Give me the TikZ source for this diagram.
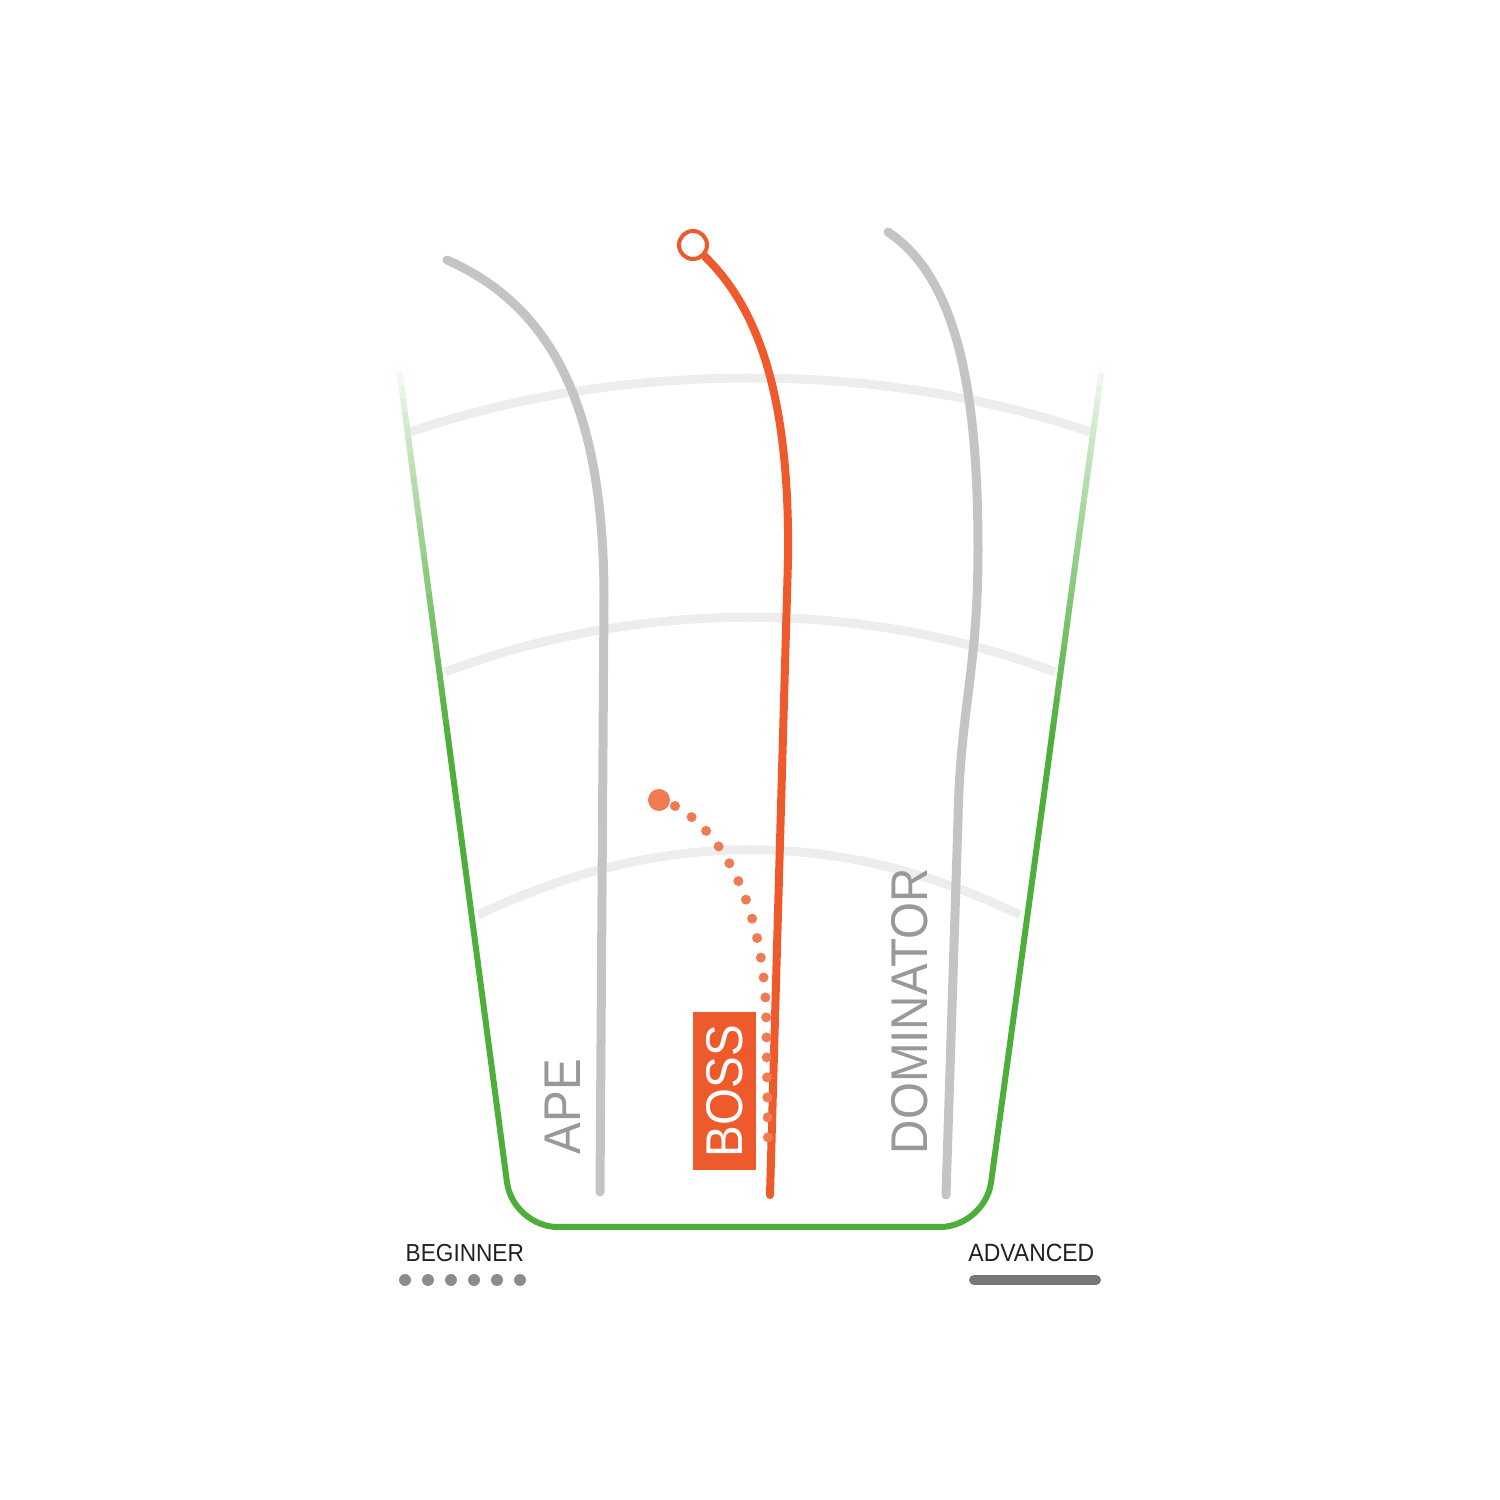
\documentclass[tikz,border=0pt]{standalone}
\usepackage{fontspec}
\setmainfont{Liberation Sans}
\newfontfamily\lblfont[FakeStretch=0.92]{Liberation Sans}
\usetikzlibrary{positioning}
\definecolor{grn}{HTML}{4DAE3A}
\definecolor{org}{HTML}{EE5A2C}
\definecolor{orgdot}{HTML}{F07A52}
\definecolor{flight}{HTML}{C4C4C4}
\definecolor{ring}{HTML}{EDEDED}
\definecolor{lbl}{HTML}{999999}

\begin{document}
\begin{tikzpicture}
			\useasboundingbox (0,0) rectangle (15,15);
			
			% Distance rings
			\draw[line width=0.09cm,draw=ring] (4.10,10.68) .. controls (6.2,11.4) and (8.8,11.4) .. (10.90,10.68);
			\draw[line width=0.09cm,draw=ring] (4.45,8.28) .. controls (6.4,9.01) and (8.6,9.01) .. (10.55,8.28);
			\draw[line width=0.09cm,draw=ring] (4.78,5.85) .. controls (6.6,6.72) and (8.4,6.72) .. (10.20,5.85);
			
			% Fairway edges, fading out at the top
			\foreach \i in {0,...,29} {
				\pgfmathsetmacro{\ya}{11.4-\i*0.13}
				\pgfmathsetmacro{\yb}{\ya-0.14}
				\pgfmathtruncatemacro{\p}{1+99*(\i/29)^0.75}
				\draw[line width=0.06cm,draw=grn!\p!white] ({3.98+(11.4-\ya)*0.1325},\ya) -- ({3.98+(11.4-\yb)*0.1325},\yb);
				\draw[line width=0.06cm,draw=grn!\p!white] ({11.03-(11.4-\ya)*0.136},\ya) -- ({11.03-(11.4-\yb)*0.136},\yb);
			}
			\draw[line width=0.06cm,draw=grn,rounded corners=0.45cm] (4.497,7.5) -- (5.129,2.73) -- (9.85,2.73) -- (10.50,7.5);
			
			% Flight paths
			\draw[line width=0.09cm,draw=flight,line cap=round] (4.47,12.40) .. controls (5.6,11.9) and (6.04,10.8) .. (6.04,9.0) -- (6.00,3.08);
			\draw[line width=0.09cm,draw=flight,line cap=round] (8.88,12.68) .. controls (9.6,12.2) and (9.78,11.0) .. (9.78,9.5) .. controls (9.78,8.3) and (9.60,7.9) .. (9.58,6.8) -- (9.46,3.05);
			
			\node[circle,draw=org,fill=white,line width=0.04cm,minimum size=0.28cm,inner sep=0] (boss start) at (6.93,12.55) {};
			\draw[line width=0.08cm,draw=org,line cap=round] (boss start) .. controls (7.6,11.9) and (7.9,11.0) .. (7.88,9.4) -- (7.70,3.05);
			
			\node[circle,fill=orgdot,minimum size=0.22cm,inner sep=0] (turn start) at (6.59,7.0) {};
			\draw[line width=0.1cm,draw=orgdot,line cap=round,dash pattern=on 0pt off 0.2cm] (6.75,6.94) .. controls (7.2,6.7) and (7.62,6.0) .. (7.66,4.9) -- (7.68,3.6);
			
			% Labels
			\node[rotate=90,anchor=base west,inner sep=0,text=lbl,font=\lblfont\fontsize{14.7}{16}\selectfont] (ape) at (5.80,3.45) {APE};
			\node[rotate=90,fill=org,text=white,inner sep=0,minimum width=1.58cm,minimum height=0.63cm,font=\lblfont\fontsize{14.7}{16}\selectfont] (boss) at (7.245,4.09) {BOSS};
			\node[rotate=90,anchor=base west,inner sep=0,text=lbl,font=\lblfont\fontsize{14.7}{16}\selectfont] (dominator) at (9.27,3.45) {DOMINATOR};
			
			% Legend
			\node[anchor=base west,inner sep=0,text=black!87,font=\lblfont\fontsize{7.0}{9}\selectfont] (beginner) at (4.05,2.38) {BEGINNER};
			\node[anchor=base east,inner sep=0,text=black!87,font=\lblfont\fontsize{7.1}{9}\selectfont] (advanced) at (10.95,2.38) {ADVANCED};
			\foreach \k in {0,...,5}
				\fill[black!45] (4.05+\k*0.23,2.20) circle (0.06);
			\coordinate (bar west) at (9.74,2.20);
			\coordinate (bar east) at (10.96,2.20);
			\draw[line width=0.1cm,draw=black!53,line cap=round] (bar west) -- (bar east);
			
		\end{tikzpicture}
\end{document}
